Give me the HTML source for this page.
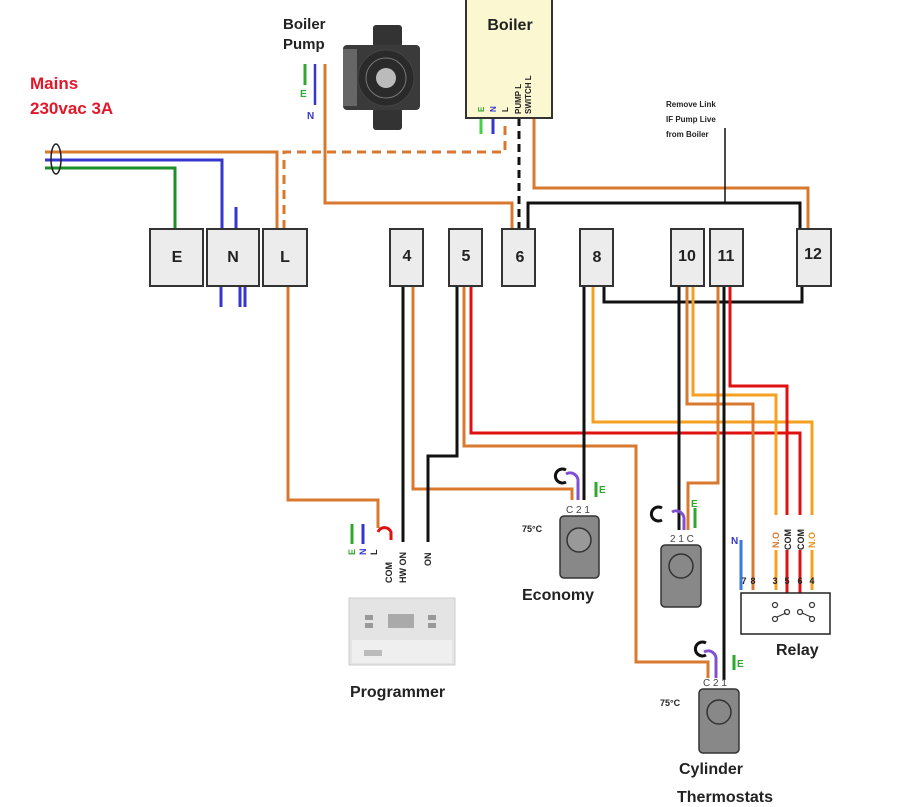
<!DOCTYPE html>
<html><head><meta charset="utf-8"><style>
html,body{margin:0;padding:0;background:#fff;}
svg{display:block;font-family:"Liberation Sans",sans-serif;}
.b{font-weight:bold;}
</style></head><body>
<svg width="921" height="807" viewBox="0 0 921 807" xmlns="http://www.w3.org/2000/svg">
<g fill="none" stroke-width="3" stroke-linejoin="miter">
<path d="M45 152 H277 V229" stroke="#d9782f"/>
<path d="M45 160 H222 V229" stroke="#3535d0"/>
<path d="M45 168 H175 V229" stroke="#1f8f2a"/>
<ellipse cx="56" cy="159" rx="5" ry="15" stroke="#222" stroke-width="1.5"/>
<path d="M236 207 V229" stroke="#3535d0"/>
<path d="M221 287 V307 M240 287 V307 M245 287 V307" stroke="#3535d0"/>
<path d="M284 229 V152 H505 V120" stroke="#d9782f" stroke-dasharray="9 6"/>
<path d="M305 64 V85" stroke="#2ea82e"/>
<path d="M315 64 V105" stroke="#3535d0" stroke-width="2.5"/>
<path d="M325 64 V203 H512 V229" stroke="#d9782f"/>
<path d="M481 118 V134" stroke="#45d045"/>
<path d="M493 118 V134" stroke="#3535d0"/>
<path d="M519 118 V229" stroke="#111" stroke-dasharray="8 5"/>
<path d="M534 118 V188 H808 V229" stroke="#d9782f"/>
<path d="M528 229 V203 H800 V229" stroke="#111"/>
<path d="M725 128 V202" stroke="#111" stroke-width="1.5"/>
<path d="M604 286 V302 H802 V286" stroke="#111"/>
<path d="M288 286 V500 H378 V528" stroke="#d9782f"/>
<path d="M378 532 A7 7 0 0 1 391 532 V540" stroke="#e01010"/>
<path d="M403 286 V542" stroke="#111"/>
<path d="M413 286 V489 H572 V500" stroke="#d9782f"/>
<path d="M457 286 V456 H428 V542" stroke="#111"/>
<path d="M464 286 V446 H636 V662 H708 V678" stroke="#d9782f"/>
<path d="M471 286 V433 H800 V515" stroke="#e01010"/>
<path d="M584 286 V500" stroke="#111"/>
<path d="M593 286 V422 H812 V515" stroke="#f5a020"/>
<path d="M679 286 V530" stroke="#111"/>
<path d="M687 286 V404 H753 V590" stroke="#d9782f"/>
<path d="M693 286 V395 H776 V515" stroke="#f5a020"/>
<path d="M718 286 V483 H688 V530" stroke="#d9782f"/>
<path d="M724 286 V680" stroke="#111"/>
<path d="M730 286 V386 H787 V515" stroke="#e01010"/>
<path d="M776 550 V590" stroke="#f5a020"/>
<path d="M787 550 V607" stroke="#e01010"/>
<path d="M800 550 V607" stroke="#e01010"/>
<path d="M812 550 V590" stroke="#f5a020"/>
<path d="M741 540 V590" stroke="#3a7ae0"/>
<path d="M352 524 V544" stroke="#2ea82e"/>
<path d="M363 524 V544" stroke="#3535d0"/>
<path d="M578 500 V482 A8 8 0 0 0 566 474" stroke="#8050d0"/>
<path d="M596 482 V497" stroke="#2ea82e"/>
<path d="M566 470 A7 7 0 1 0 566 482" stroke="#111"/>
<path d="M684 530 V520 A8 8 0 0 0 672 512" stroke="#8050d0"/>
<path d="M695 508 V528" stroke="#2ea82e"/>
<path d="M662 508 A7 7 0 1 0 662 520" stroke="#111"/>
<path d="M716 678 V660 A8 8 0 0 0 704 652" stroke="#8050d0"/>
<path d="M734 655 V670" stroke="#2ea82e"/>
<path d="M706 643 A7 7 0 1 0 706 655" stroke="#111"/>
</g>
<g fill="#ececec" stroke="#333" stroke-width="2">
<rect x="150" y="229" width="53" height="57"/>
<rect x="207" y="229" width="52" height="57"/>
<rect x="263" y="229" width="44" height="57"/>
<rect x="390" y="229" width="33" height="57"/>
<rect x="449" y="229" width="33" height="57"/>
<rect x="502" y="229" width="33" height="57"/>
<rect x="580" y="229" width="33" height="57"/>
<rect x="671" y="229" width="33" height="57"/>
<rect x="710" y="229" width="33" height="57"/>
<rect x="797" y="229" width="34" height="57"/>
</g>
<g class="b" font-size="16" text-anchor="middle" fill="#222">
<text x="177" y="262">E</text><text x="233" y="262">N</text><text x="285" y="262">L</text>
<text x="407" y="261">4</text><text x="466" y="261">5</text><text x="520" y="262">6</text>
<text x="597" y="262">8</text><text x="687" y="261">10</text><text x="726" y="261">11</text><text x="813" y="259">12</text>
</g>
<rect x="466" y="-2" width="86" height="120" fill="#fbf7d0" stroke="#333" stroke-width="2"/>
<text x="510" y="30" class="b" font-size="16" text-anchor="middle" fill="#222">Boiler</text>
<g class="b" font-size="8">
<text transform="translate(484,112) rotate(-90)" fill="#2ea82e">E</text>
<text transform="translate(496,112) rotate(-90)" fill="#3535d0">N</text>
<text transform="translate(508,112) rotate(-90)" fill="#222">L</text>
<text transform="translate(521,114) rotate(-90)" fill="#222">PUMP L</text>
<text transform="translate(531,114) rotate(-90)" fill="#222">SWITCH L</text>
</g>
<text x="666" y="107" font-size="8" class="b" fill="#222">Remove Link</text>
<text x="666" y="122" font-size="8" class="b" fill="#222">IF Pump Live</text>
<text x="666" y="137" font-size="8" class="b" fill="#222">from Boiler</text>
<text x="30" y="89" class="b" font-size="17" fill="#e3172a">Mains</text>
<text x="30" y="114" class="b" font-size="17" fill="#e3172a">230vac 3A</text>
<text x="283" y="29" class="b" font-size="15" fill="#222">Boiler</text>
<text x="283" y="49" class="b" font-size="15" fill="#222">Pump</text>
<text x="300" y="97" class="b" font-size="10" fill="#2ea82e">E</text>
<text x="307" y="119" class="b" font-size="10" fill="#3535d0">N</text>
<rect x="373" y="25" width="29" height="22" rx="3" fill="#333"/>
<rect x="373" y="108" width="29" height="22" rx="3" fill="#333"/>
<rect x="343" y="45" width="77" height="65" rx="4" fill="#3a3a3a"/>
<rect x="343" y="49" width="14" height="57" fill="#666"/>
<circle cx="386" cy="78" r="28" fill="#2a2a2a" stroke="#444"/>
<circle cx="386" cy="78" r="20" fill="#2a2a2a" stroke="#777" stroke-width="1"/>
<circle cx="386" cy="78" r="10" fill="#bbb"/>
<g class="b" font-size="9">
<text transform="translate(355,555) rotate(-90)" fill="#2ea82e">E</text>
<text transform="translate(366,555) rotate(-90)" fill="#3535d0">N</text>
<text transform="translate(377,555) rotate(-90)" fill="#222">L</text>
<text transform="translate(392,583) rotate(-90)" fill="#222">COM</text>
<text transform="translate(406,583) rotate(-90)" fill="#222">HW ON</text>
<text transform="translate(431,566) rotate(-90)" fill="#222">ON</text>
</g>
<rect x="349" y="598" width="106" height="67" fill="#e4e4e4" stroke="#ccc"/>
<rect x="352" y="640" width="100" height="23" fill="#efefef"/>
<rect x="388" y="614" width="26" height="14" fill="#aaa"/>
<rect x="365" y="615" width="8" height="5" fill="#999"/><rect x="365" y="623" width="8" height="5" fill="#999"/>
<rect x="428" y="615" width="8" height="5" fill="#999"/><rect x="428" y="623" width="8" height="5" fill="#999"/>
<rect x="364" y="650" width="18" height="6" fill="#bbb"/>
<text x="350" y="697" class="b" font-size="16" fill="#222">Programmer</text>
<text x="566" y="513" font-size="10" fill="#444">C 2 1</text>
<text x="599" y="493" class="b" font-size="10" fill="#2ea82e">E</text>
<text x="522" y="532" class="b" font-size="9" fill="#222">75°C</text>
<rect x="560" y="516" width="39" height="62" rx="4" fill="#888" stroke="#333" stroke-width="1.5"/>
<circle cx="579" cy="540" r="12" fill="#999" stroke="#333" stroke-width="1.5"/>
<text x="522" y="600" class="b" font-size="16" fill="#222">Economy</text>
<text x="670" y="542" font-size="10" fill="#444">2 1 C</text>
<text x="691" y="507" class="b" font-size="10" fill="#2ea82e">E</text>
<rect x="661" y="545" width="40" height="62" rx="4" fill="#888" stroke="#333" stroke-width="1.5"/>
<circle cx="681" cy="566" r="12" fill="#888" stroke="#333" stroke-width="1.5"/>
<text x="703" y="686" font-size="10" fill="#444">C 2 1</text>
<text x="737" y="667" class="b" font-size="10" fill="#2ea82e">E</text>
<text x="660" y="706" class="b" font-size="9" fill="#222">75°C</text>
<rect x="699" y="689" width="40" height="64" rx="4" fill="#888" stroke="#333" stroke-width="1.5"/>
<circle cx="719" cy="712" r="12" fill="#888" stroke="#333" stroke-width="1.5"/>
<text x="679" y="774" class="b" font-size="16" fill="#222">Cylinder</text>
<text x="677" y="802" class="b" font-size="16" fill="#222">Thermostats</text>
<text x="731" y="544" class="b" font-size="10" fill="#3535d0">N</text>
<g class="b" font-size="9" fill="#222">
<text transform="translate(779,548) rotate(-90)" fill="#d9782f">N.O</text>
<text transform="translate(791,550) rotate(-90)">COM</text>
<text transform="translate(804,550) rotate(-90)">COM</text>
<text transform="translate(815,548) rotate(-90)" fill="#e8901a">N.O</text>
</g>
<g class="b" font-size="9" fill="#222" text-anchor="middle">
<text x="744" y="584">7</text><text x="753" y="584">8</text>
<text x="775" y="584">3</text><text x="787" y="584">5</text><text x="800" y="584">6</text><text x="812" y="584">4</text>
</g>
<rect x="741" y="593" width="89" height="41" fill="#fff" stroke="#222" stroke-width="1.5"/>
<g fill="#fff" stroke="#333" stroke-width="1.2">
<circle cx="775" cy="605" r="2.5"/><circle cx="812" cy="605" r="2.5"/>
<circle cx="775" cy="619" r="2.5"/><circle cx="787" cy="612" r="2.5"/><circle cx="800" cy="612" r="2.5"/><circle cx="812" cy="619" r="2.5"/>
<path d="M777 617 L786 613 M802 613 L811 617" fill="none"/>
</g>
<text x="776" y="655" class="b" font-size="16" fill="#222">Relay</text>
</svg>
</body></html>
